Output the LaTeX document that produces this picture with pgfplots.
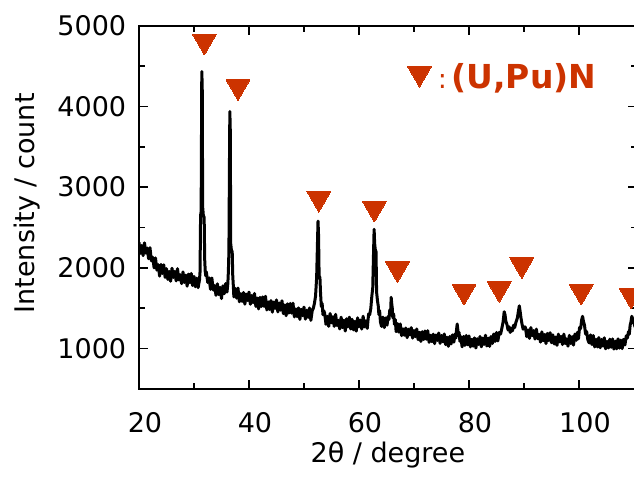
\documentclass[border=0pt]{standalone}
\usepackage{pgfplots}
\pgfplotsset{compat=1.18}
\usepackage{pgfplotstable}
\usepackage{fontspec}
\setmainfont{DejaVu Sans}
\definecolor{urred}{RGB}{204,51,0}

\pgfplotstableread{
x y
20.00 2316
20.25 2180
20.50 2278
20.75 2152
21.00 2310
21.25 2182
21.50 2245
21.75 2113
22.00 2250
22.25 2088
22.50 2132
22.75 2000
23.00 2123
23.25 1972
23.50 2040
23.75 1898
24.00 2042
24.25 1930
24.50 2038
24.75 1882
25.00 1990
25.25 1856
25.50 1957
25.75 1834
26.00 1995
26.25 1881
26.50 1957
26.75 1839
27.00 1990
27.25 1850
27.50 1915
27.75 1805
28.00 1950
28.25 1819
28.50 1909
28.75 1773
29.00 1923
29.25 1817
29.50 1931
29.75 1781
30.00 1895
30.25 1766
30.50 1873
30.75 1755
31.00 1850
31.10 1950
31.20 2650
31.30 2700
31.42 4432
31.50 4250
31.58 2750
31.70 2650
31.85 2625
31.95 2100
32.05 1950
32.15 1900
32.25 1950
32.50 1820
32.75 1875
33.00 1735
33.25 1875
33.50 1725
33.75 1780
34.00 1660
34.25 1803
34.50 1670
34.75 1758
35.00 1620
35.25 1777
35.50 1680
35.75 1805
36.00 1700
36.15 1800
36.25 1950
36.35 2200
36.45 3300
36.52 3938
36.60 3700
36.68 2300
36.80 2220
36.95 2200
37.05 1900
37.15 1780
37.25 1640
37.50 1745
37.75 1625
38.00 1750
38.25 1580
38.50 1680
38.75 1585
39.00 1695
39.25 1550
39.50 1675
39.75 1595
40.00 1700
40.25 1549
40.50 1659
40.75 1568
41.00 1683
41.25 1522
41.50 1626
41.75 1491
42.00 1635
42.25 1521
42.50 1641
42.75 1522
43.00 1648
43.25 1478
43.50 1579
43.75 1484
44.00 1595
44.25 1451
44.50 1577
44.75 1497
45.00 1603
45.25 1454
45.50 1565
45.75 1476
46.00 1592
46.25 1433
46.50 1540
46.75 1407
47.00 1555
47.25 1440
47.50 1559
47.75 1438
48.00 1563
48.25 1392
48.50 1491
48.75 1396
49.00 1505
49.25 1361
49.50 1487
49.75 1408
50.00 1514
50.25 1365
50.50 1476
50.75 1387
51.00 1503
51.25 1350
51.50 1470
51.70 1500
51.90 1560
52.10 1650
52.30 1880
52.45 2300
52.55 2580
52.65 2400
52.75 1900
52.90 1880
53.00 1700
53.15 1520
53.30 1560
53.45 1420
53.60 1470
53.75 1440
54.00 1300
54.25 1400
54.50 1275
54.75 1435
55.00 1320
55.25 1395
55.50 1275
55.75 1425
56.00 1285
56.25 1351
56.50 1243
56.75 1389
57.00 1261
57.25 1352
57.50 1218
57.75 1370
58.00 1269
58.25 1389
58.50 1243
58.75 1363
59.00 1232
59.25 1337
59.50 1216
59.75 1381
60.00 1270
60.25 1354
60.50 1242
60.75 1401
61.00 1269
61.25 1343
61.50 1250
61.75 1430
61.95 1420
62.15 1500
62.35 1660
62.50 1750
62.65 2200
62.75 2478
62.85 2300
62.95 2230
63.10 2200
63.20 1700
63.35 1600
63.50 1530
63.62 1420
63.75 1470
63.90 1330
64.10 1275
64.35 1390
64.60 1260
64.85 1380
65.10 1290
65.30 1400
65.45 1360
65.60 1480
65.75 1450
65.85 1635
65.95 1560
66.05 1500
66.15 1380
66.30 1430
66.45 1300
66.60 1360
66.75 1210
67.00 1310
67.25 1203
67.50 1305
67.75 1160
68.00 1245
68.25 1165
68.50 1255
68.75 1135
69.00 1240
69.25 1170
69.50 1260
69.75 1130
70.00 1225
70.25 1147
70.50 1243
70.75 1110
71.00 1202
71.25 1088
71.50 1210
71.75 1112
72.00 1218
72.25 1115
72.50 1222
72.75 1078
73.00 1165
73.25 1087
73.50 1179
73.75 1061
74.00 1169
74.25 1101
74.50 1193
74.75 1065
75.00 1162
75.25 1084
75.50 1181
75.75 1049
76.00 1141
76.25 1028
76.50 1150
76.75 1057
77.00 1170
77.25 1080
77.45 1180
77.60 1130
77.75 1240
77.85 1305
77.95 1250
78.05 1160
78.20 1200
78.35 1090
78.50 1150
78.75 1022
79.00 1150
79.25 1039
79.50 1163
79.75 1047
80.00 1157
80.25 1021
80.50 1115
80.75 1029
81.00 1133
81.25 1007
81.50 1122
81.75 1051
82.00 1150
82.25 1022
82.50 1130
82.75 1052
83.00 1165
83.25 1032
83.50 1130
83.75 1027
84.00 1150
84.25 1063
84.50 1180
84.75 1088
85.00 1200
85.25 1095
85.50 1200
85.75 1180
86.00 1260
86.20 1330
86.40 1457
86.55 1420
86.70 1340
86.90 1300
87.10 1230
87.30 1270
87.50 1200
87.70 1250
87.90 1220
88.10 1290
88.30 1260
88.55 1330
88.80 1380
89.00 1470
89.15 1530
89.30 1460
89.45 1380
89.65 1300
89.85 1240
90.05 1270
90.25 1265
90.50 1148
90.75 1231
91.00 1126
91.25 1261
91.50 1160
91.75 1224
92.00 1118
92.25 1242
92.50 1122
92.75 1176
93.00 1080
93.25 1207
93.50 1098
93.75 1175
94.00 1062
94.25 1188
94.50 1100
94.75 1197
95.00 1073
95.25 1170
95.50 1057
95.75 1143
96.00 1040
96.25 1179
96.50 1083
96.75 1151
97.00 1050
97.25 1179
97.50 1063
97.75 1121
98.00 1030
98.25 1164
98.50 1063
98.75 1148
99.00 1043
99.25 1179
99.50 1102
99.70 1200
99.90 1120
100.10 1260
100.30 1250
100.50 1360
100.65 1400
100.80 1340
101.00 1290
101.20 1180
101.40 1210
101.60 1110
101.85 1070
102.10 1170
102.35 1050
102.60 1162
102.85 1020
103.10 1115
103.35 1020
103.60 1137
103.85 1010
104.10 1113
104.35 1031
104.60 1134
104.85 997
105.10 1090
105.35 1008
105.60 1117
105.85 1016
106.10 1120
106.35 994
106.60 1093
106.85 997
107.10 1121
107.35 1005
107.60 1105
107.85 1000
108.10 1115
108.35 1045
108.60 1160
108.80 1130
109.00 1210
109.15 1180
109.30 1290
109.45 1330
109.60 1400
109.75 1370
109.90 1330
110.05 1300
110.30 1250
}\xrd

\pgfplotstableread{
x y
31.9 4810
38.0 4246
52.7 2863
62.8 2740
67.0 1991
79.1 1711
85.5 1744
89.6 2041
100.4 1711
109.5 1662
}\peaks

\begin{document}
\begin{tikzpicture}
\begin{axis}[
  scale only axis,
  width=248.9pt, height=181.65pt,
  xmin=20, xmax=110.5, ymin=500, ymax=5000,
  xtick={20,40,60,80,100}, ytick={1000,2000,3000,4000,5000},
  minor x tick num=1, minor y tick num=1,
  tick align=inside,
  major tick length=4.5pt, minor tick length=3pt,
  axis line style={line width=0.9pt},
  every tick/.style={black, line width=0.9pt},
  scaled ticks=false,
  /pgf/number format/assume math mode=true,
  /pgf/number format/1000 sep={},
  tick label style={font=\fontsize{13.5}{16}\selectfont},
  yticklabel style={anchor=east, inner sep=0pt, xshift=-6.2pt},
  xticklabel style={anchor=north, inner sep=0pt, yshift=-11.35pt, xshift=3pt},
  xlabel={2θ / degree},
  ylabel={Intensity / count},
  every axis x label/.style={at={(rel axis cs:0.5,0)}, anchor=base, yshift=-36.85pt, font=\fontsize{13.5}{16}\selectfont},
  every axis y label/.style={at={(rel axis cs:0,0.511)}, rotate=90, anchor=base, yshift=52pt, font=\fontsize{13.5}{16}\selectfont},
]
\addplot[black, line width=1.5pt, line join=round] table[x=x, y=y] {\xrd};
\addplot[only marks, mark=triangle*, mark size=6.9pt, color=urred,
  mark options={rotate=180, fill=urred, draw=urred, line width=0pt}] table[x=x, y=y] {\peaks};
\addplot[only marks, mark=triangle*, mark size=6.9pt, color=urred,
  mark options={rotate=180, fill=urred, draw=urred, line width=0pt}] coordinates {(71.0,4411)};
\node[anchor=base west, inner sep=0pt, text=urred] at (axis cs:74.27,4227)
  {\fontsize{13.5}{16}\selectfont:\hspace{2.3pt}\fontsize{16.5}{20}\selectfont\bfseries (U,Pu)N};
\coordinate (BL) at (rel axis cs:0,0);
\coordinate (TR) at (axis cs:110,5000);
\end{axis}
\pgfresetboundingbox
\useasboundingbox ([xshift=-69.5pt,yshift=-44.5pt]BL) rectangle ([yshift=12.85pt]TR);
\end{tikzpicture}
\end{document}
